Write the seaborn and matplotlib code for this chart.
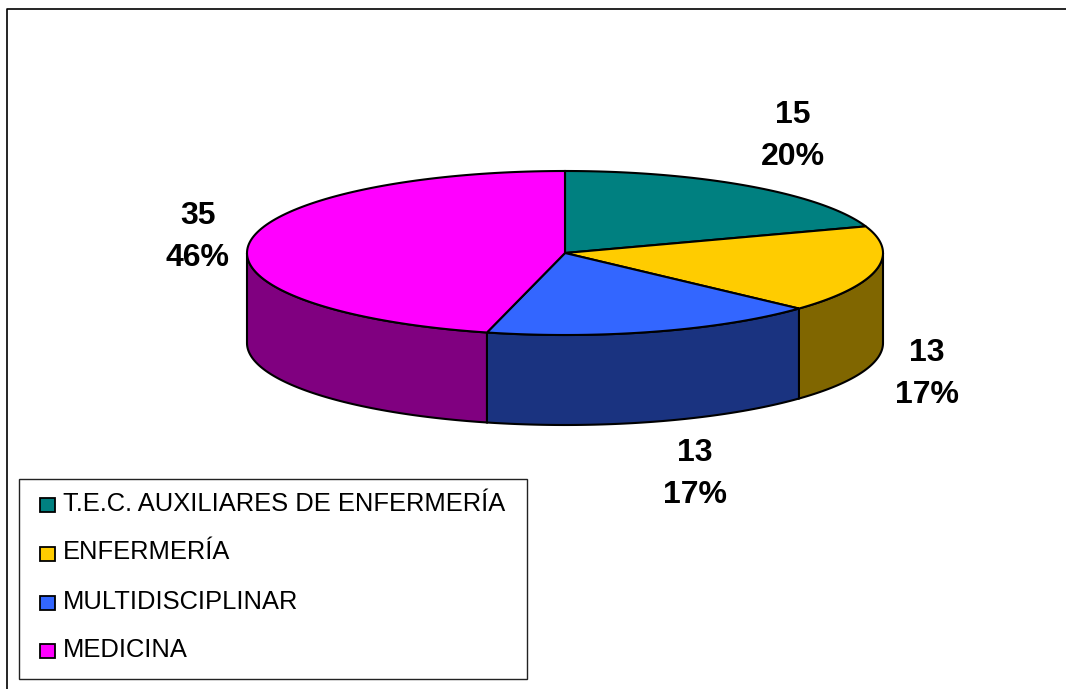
import numpy as np
import seaborn as sns
import matplotlib.pyplot as plt
from matplotlib.patches import Polygon, Rectangle

sns.set_theme(style="white")
plt.rcParams['font.family'] = ['Liberation Sans', 'DejaVu Sans']

categories = ["T.E.C. AUXILIARES DE ENFERMERÍA", "ENFERMERÍA", "MULTIDISCIPLINAR", "MEDICINA"]
values = [15, 13, 13, 35]
percents = ["20%", "17%", "17%", "46%"]
top_colors = ["#008080", "#FFCC00", "#3366FF", "#FF00FF"]

# pie geometry, in pixels of the canvas
cx, cy = 565, 253
rx, ry = 318, 82
depth = 90

label_pos = [(793, 136), (927, 374), (695, 474), (198, 237)]
legend_text_y = [504, 552, 602, 650]
legend_box_y = [505, 554, 603, 651]


def ell(t):
    return cx + rx * np.cos(t), cy - ry * np.sin(t)


fig = plt.figure(figsize=(10.66, 6.89), dpi=100)
ax = fig.add_axes([0, 0, 1, 1])
ax.set_xlim(0, 1066)
ax.set_ylim(689, 0)
ax.axis("off")

# chart border, only left and top are inside the crop
ax.plot([7, 7, 1066], [689, 9, 9], color="black", lw=1.2)

# angles, clockwise from the top
fracs = np.array(values) / sum(values) * 2 * np.pi
starts = np.pi / 2 - np.r_[0, np.cumsum(fracs)[:-1]]
ends = starts - fracs
side_colors = [tuple(c * 0.5 for c in rgb) for rgb in sns.color_palette(top_colors)]

# side walls, only the front half of the ellipse is visible
for a, b, col in zip(starts, ends, side_colors):
    lo, hi = max(b, -np.pi), min(a, 0)
    if lo < hi:
        x, y = ell(np.linspace(hi, lo, 80))
        pts = np.c_[np.r_[x, x[::-1]], np.r_[y, y[::-1] + depth]]
        ax.add_patch(Polygon(pts, fc=col, ec="black", lw=1.5, zorder=2))

# top slices
for a, b, col in zip(starts, ends, top_colors):
    x, y = ell(np.linspace(a, b, 120))
    ax.add_patch(Polygon(np.c_[np.r_[cx, x], np.r_[cy, y]], fc=col, ec="black", lw=1.5, zorder=3))

# data labels
for (lx, ly), v, p in zip(label_pos, values, percents):
    ax.text(lx, ly, f"{v}\n{p}", ha="center", va="center", fontsize=23, fontweight="bold",
            color="black", linespacing=1.5, zorder=5)

# legend box
ax.add_patch(Rectangle((19, 479), 508, 200, fc="white", ec="#222222", lw=1, zorder=4))
for name, col, ty, by in zip(categories, top_colors, legend_text_y, legend_box_y):
    ax.add_patch(Rectangle((40, by - 7), 15, 14, fc=col, ec="black", lw=1.3, zorder=5))
    ax.text(63, ty, name, ha="left", va="center", fontsize=18.4, color="black", zorder=5)

fig.savefig("out.png", dpi=100)
